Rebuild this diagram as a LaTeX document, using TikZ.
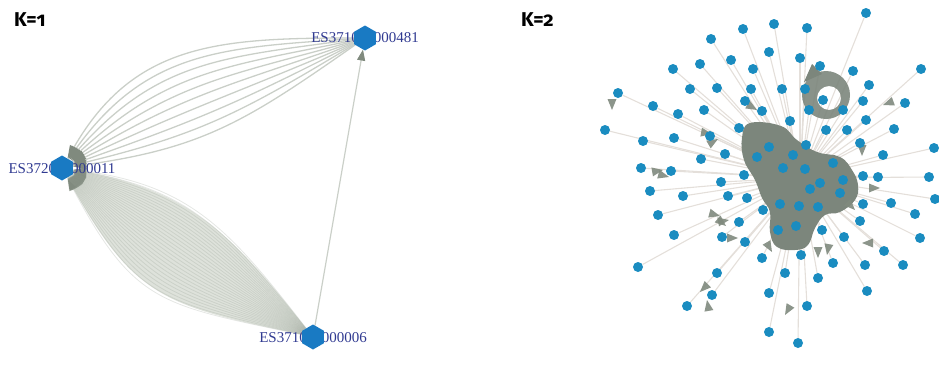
\documentclass[tikz,border=0pt]{standalone}
\usepackage{fontspec}
\newfontfamily\kfont[Numbers=OldStyle]{Fira Sans}
\newfontfamily\idfont{Liberation Serif}
\usetikzlibrary{shapes.geometric,arrows.meta,backgrounds}
\definecolor{dotc}{RGB}{26,140,192}
\definecolor{hexc}{RGB}{25,122,195}
\definecolor{idc}{RGB}{48,58,145}
\definecolor{blobc}{RGB}{124,134,124}
\definecolor{tipc}{RGB}{128,138,126}
\definecolor{edgec}{RGB}{228,223,218}
\definecolor{curvec}{RGB}{202,207,200}
\definecolor{lensc}{RGB}{150,160,148}
\definecolor{lensfill}{RGB}{222,226,219}
\tikzset{
  klab/.style={font=\kfont\bfseries\fontsize{20}{20}\selectfont, anchor=base west, inner sep=0pt},
  idlab/.style={font=\idfont\fontsize{15}{15}\selectfont, text=idc, inner sep=0pt},
  hexn/.style={regular polygon, regular polygon sides=6, shape border rotate=30, fill=hexc, minimum size=25pt, inner sep=0pt},
  dot/.style={circle, fill=dotc, minimum size=10pt, inner sep=0pt},
  lensline/.style={draw=lensc, draw opacity=0.25, line width=0.8pt, -{Triangle[length=13pt,width=9pt,fill=tipc]}},
  topline/.style={draw=curvec, line width=1.3pt, -{Triangle[length=13pt,width=9pt,fill=tipc,color=tipc]}},
  straightline/.style={draw=curvec, line width=1.2pt, -{Triangle[length=11pt,width=8pt,fill=tipc,color=tipc]}},
  radial/.style={draw=edgec, line width=1.1pt},
  tipshape/.style={fill=tipc, fill opacity=0.9}
}
\begin{document}
\begin{tikzpicture}[x=1pt,y=-1pt]
\useasboundingbox (0,0) rectangle (939,364);
% ---------- titles
\node[klab] (k1) at (14,26) {K=1};
\node[klab] (k2) at (521,26) {K=2};
% ---------- left panel
\node[idlab] (Tl) at (365,38) {ES371000000481};
\node[idlab] (Ll) at (62,169) {ES372000000011};
\node[idlab] (Bl) at (313,338) {ES371000000006};
\node[hexn] (T) at (365,38) {};
\node[hexn] (L) at (62,168) {};
\node[hexn] (B) at (313,337) {};
\begin{scope}[on background layer]
  \fill[lensfill] (B.center) .. controls (233,235) and (191,186) .. (L.center)
                  .. controls (134,303) and (163,305) .. (B.center) -- cycle;
  \foreach \k in {0,...,29} {
    \pgfmathsetmacro\oa{128+40*\k/29}
    \pgfmathsetmacro\ia{-8-54*\k/29}
    \pgfmathsetmacro\lo{1.1+0.2*\k/29}
    \draw[lensline] (B) to[out=\oa,in=\ia,looseness=\lo] (L);
  }
  \foreach \k in {0,...,9} {
    \pgfmathsetmacro\oa{180+35*\k/9}
    \pgfmathsetmacro\ia{60-52*\k/9}
    \draw[topline] (T) to[out=\oa,in=\ia,looseness=1.1] (L);
  }
  \draw[straightline] (B) -- (T);
\end{scope}
% ---------- right panel
\coordinate (hub) at (800,178);
\fill[blobc] plot[smooth cycle, tension=0.7] coordinates {(750,123) (781,126) (797,140) (817,152) (840,157) (852,170) (858,185) (855,200) (840,212) (825,215) (815,228) (808,245) (795,250) (777,247) (770,232) (770,212) (762,198) (755,180) (744,160) (742,138)};
\fill[blobc, even odd rule, fill opacity=0.9] (826,95) circle[radius=24] (829,98) circle[radius=12];
\fill[blobc] (804,82) -- (812,64) -- (822,74) -- cycle;
\foreach \x/\y/\a in {612/110/-90, 663/170/10, 669/177/-15, 712/134/-10, 718/139/30,
  720/216/-15, 729/220/10, 726/226/-40, 738/238/0, 700/292/-135, 707/300/100,
  862/243/180, 818/258/-90, 827/255/-100, 785/315/-120, 880/188/0, 855/210/-45,
  883/105/200, 862/156/-90, 757/110/-30, 772/252/-60}
  \fill[tipshape, shift={(\x,\y)}, rotate=\a] (0,0) -- (-11,4.5) -- (-11,-4.5) -- cycle;
\foreach \x/\y [count=\i] in {866/13, 743/29, 774/24, 807/28, 711/39, 769/52, 800/58, 731/60,
  673/69, 700/64, 753/69, 820/66, 853/71, 921/69, 690/89, 717/88, 751/89, 782/89, 805/89,
  869/85, 618/93, 653/106, 678/114, 704/110, 745/101, 762/111, 809/110, 823/100, 843/110,
  863/101, 905/103, 605/130, 790/121, 826/130, 847/130, 866/120, 894/129, 739/128, 643/141,
  674/138, 710/136, 806/145, 860/143, 934/148, 769/147, 793/155, 757/157, 701/159, 725/154,
  883/155, 641/168, 671/171, 783/168, 805/169, 833/163, 744/175, 843/180, 863/176, 878/177,
  929/177, 820/183, 810/189, 721/182, 650/191, 683/196, 728/196, 747/198, 840/193, 935/199,
  780/204, 799/206, 818/207, 891/203, 863/204, 763/210, 658/215, 915/214, 860/221, 739/222,
  778/230, 796/226, 822/230, 844/237, 674/235, 722/237, 745/242, 920/238, 884/251, 762/258,
  801/255, 833/263, 865/265, 903/265, 638/267, 785/273, 818/278, 717/273, 867/291, 769/293,
  712/295, 687/306, 807/306, 769/332, 798/343} {
  \node[dot] (d\i) at (\x,\y) {};
  \begin{pgfonlayer}{background}
    \draw[radial] (d\i) -- (hub);
  \end{pgfonlayer}
}
\end{tikzpicture}
\end{document}
